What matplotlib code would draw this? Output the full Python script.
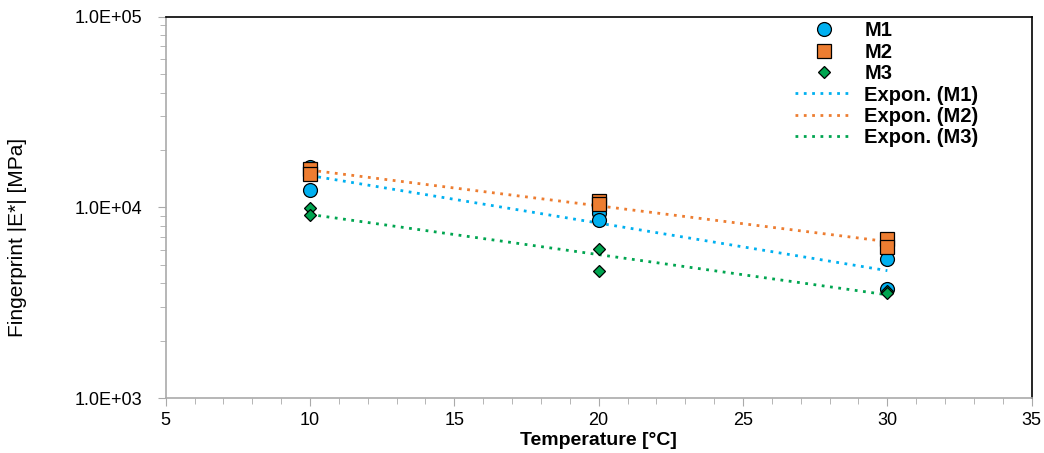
import numpy as np
import matplotlib.pyplot as plt
from matplotlib.ticker import FixedLocator, NullFormatter, FixedFormatter

# Measured |E*| values [MPa] at each test temperature
temp_m1 = [10, 10, 20, 20, 30, 30]
e_m1 = [16250, 12270, 9325, 8570, 5390, 3720]

temp_m2 = [10, 10, 20, 20, 30, 30]
e_m2 = [15850, 14920, 10780, 10400, 6810, 6180]

temp_m3 = [10, 10, 20, 20, 30, 30]
e_m3 = [9870, 9100, 6050, 4645, 3620, 3560]

labels = ['M1', 'M2', 'M3']
colors = ['#00B0F0', '#ED7D31', '#00A550']
markers = ['o', 's', 'D']
sizes = [10, 9.5, 6.5]

plt.rcParams['font.family'] = ['Liberation Sans', 'DejaVu Sans']

fig = plt.figure(figsize=(10.44, 4.53), dpi=100)
ax = fig.add_axes([0.1587, 0.1214, 0.8295, 0.8417])

series = [(temp_m1, e_m1), (temp_m2, e_m2), (temp_m3, e_m3)]

point_handles = []
for (t, e), lab, c, m, s in zip(series, labels, colors, markers, sizes):
    h, = ax.plot(t, e, linestyle='none', marker=m, markersize=s,
                 markerfacecolor=c, markeredgecolor='black',
                 markeredgewidth=0.9, label=lab, zorder=3)
    point_handles.append(h)

# Exponential trendlines (least squares on log values)
trend_handles = []
for (t, e), lab, c in zip(series, labels, colors):
    b, a = np.polyfit(t, np.log(e), 1)
    xs = np.linspace(min(t), max(t), 50)
    h, = ax.plot(xs, np.exp(a + b * xs), linestyle=(0, (1, 2)),
                 linewidth=2, color=c, label=f'Expon. ({lab})', zorder=2)
    trend_handles.append(h)

ax.set_yscale('log')
ax.set_xlim(5, 35)
ax.set_ylim(1e3, 1e5)

ax.set_xticks([5, 10, 15, 20, 25, 30, 35])
ax.xaxis.set_minor_locator(FixedLocator(np.arange(5, 36, 1)))
ax.set_yticks([1e3, 1e4, 1e5])
ax.yaxis.set_major_formatter(FixedFormatter(['1.0E+03', '1.0E+04', '1.0E+05']))
ax.yaxis.set_minor_formatter(NullFormatter())

ax.tick_params(axis='both', which='major', direction='out', length=6,
               color='#AAAAAA', labelsize=13)
ax.tick_params(axis='both', which='minor', direction='out', length=4,
               color='#AAAAAA')
ax.tick_params(axis='y', which='major', pad=11)
ax.tick_params(axis='x', which='major', pad=4)

ax.spines['left'].set_color('#AAAAAA')
ax.spines['bottom'].set_color('#AAAAAA')
ax.spines['top'].set_color('black')
ax.spines['right'].set_color('black')
for sp in ax.spines.values():
    sp.set_linewidth(1.2)

ax.set_xlabel('Temperature [°C]', fontsize=14, fontweight='bold', labelpad=2)
ax.set_ylabel('Fingerprint |E*| [MPa]', fontsize=15)
ax.yaxis.set_label_coords(-0.160, 0.421)

ax.legend(handles=point_handles + trend_handles, loc='upper left',
          bbox_to_anchor=(0.7267, 0.988), frameon=False,
          prop={'weight': 'bold', 'size': 14.5}, handlelength=2.85,
          labelspacing=0.12, handletextpad=0.6, borderpad=0,
          borderaxespad=0)

fig.savefig('out.png', dpi=100)
